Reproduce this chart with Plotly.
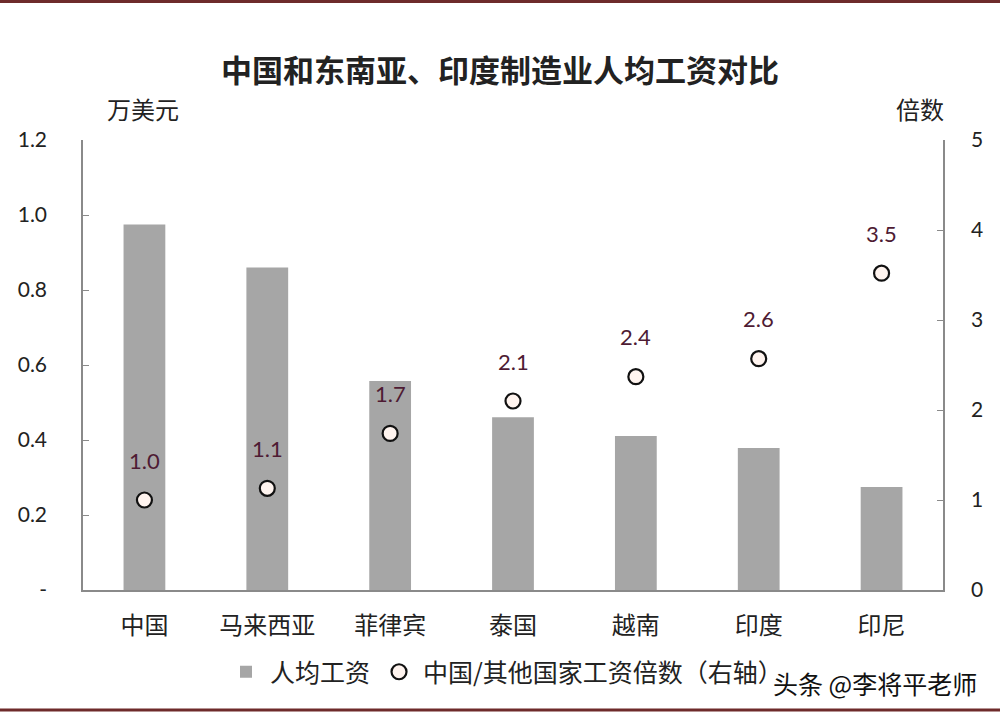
import plotly.graph_objects as go

categories = ["中国", "马来西亚", "菲律宾", "泰国", "越南", "印度", "印尼"]
wage = [0.975, 0.86, 0.557, 0.461, 0.411, 0.379, 0.275]
ratio = [1.0, 1.13, 1.74, 2.1, 2.37, 2.57, 3.52]
ratio_labels = ["1.0", "1.1", "1.7", "2.1", "2.4", "2.6", "3.5"]
left_ticks = [0, 0.2, 0.4, 0.6, 0.8, 1.0, 1.2]
left_ticktext = ["-", "0.2", "0.4", "0.6", "0.8", "1.0", "1.2"]
right_ticks = [0, 1, 2, 3, 4, 5]

CJK = "Noto Sans CJK SC"
NUM = "Lato"
dark = "#222222"
axis_col = "#8a8a8a"
label_col = "#4e1b33"

fig = go.Figure()
fig.add_trace(go.Bar(
    x=categories, y=wage, name="人均工资", width=0.34,
    marker=dict(color="#a6a6a6", line=dict(width=0)),
    yaxis="y",
))
fig.add_trace(go.Scatter(
    x=categories, y=ratio, name="中国/其他国家工资倍数（右轴）",
    mode="markers", yaxis="y2",
    marker=dict(symbol="circle", size=15, color="#fff4ef",
                line=dict(color="#111111", width=2.2)),
))

for c, r, t in zip(categories, ratio, ratio_labels):
    fig.add_annotation(x=c, y=r, xref="x", yref="y2", text=t, showarrow=False,
                       yshift=40, font=dict(family=NUM, size=22, color=label_col))

annots = [
    dict(text="中国和东南亚、印度制造业人均工资对比", x=(500 - 83) / 860, y=(590 - 68) / 450,
         font=dict(family=CJK, size=31, color=dark, weight=600)),
    dict(text="万美元", x=(143 - 83) / 860, y=(590 - 108) / 450,
         font=dict(family=CJK, size=24, color=dark)),
    dict(text="倍数", x=(920 - 83) / 860, y=(590 - 108) / 450,
         font=dict(family=CJK, size=24, color=dark)),
    dict(text="头条 @李将平老师", x=(875 - 83) / 860, y=(590 - 683) / 450,
         font=dict(family=CJK, size=25, color="#111111")),
]
for a in annots:
    fig.add_annotation(text=a["text"], x=a["x"], y=a["y"], xref="paper", yref="paper",
                       showarrow=False, xanchor="center", yanchor="middle", font=a["font"])

# border lines top and bottom
for py in (1.5, 710):
    fig.add_shape(type="line", xref="paper", yref="paper",
                  x0=-83 / 860, x1=917 / 860, y0=(590 - py) / 450, y1=(590 - py) / 450,
                  line=dict(color="#6e2b2b", width=3))

fig.update_layout(
    width=1000, height=714,
    margin=dict(l=83, r=57, t=140, b=124),
    paper_bgcolor="white", plot_bgcolor="white",
    showlegend=True,
    legend=dict(orientation="h", x=(505 - 83) / 860, xanchor="center",
                y=(590 - 672) / 450, yanchor="middle",
                font=dict(family=CJK, size=25, color=dark), itemwidth=38,
                bgcolor="rgba(0,0,0,0)"),
    xaxis=dict(range=[-0.5, 6.5], showline=True, linecolor=axis_col, linewidth=1.5,
               ticks="", showgrid=False, ticklabelstandoff=13,
               tickfont=dict(family=CJK, size=24, color=dark)),
    yaxis=dict(range=[0, 1.2], tickvals=left_ticks, ticktext=left_ticktext,
               showline=True, linecolor=axis_col, linewidth=1.5, ticks="inside",
               ticklen=6, tickcolor=axis_col, showgrid=False, zeroline=False,
               tickfont=dict(family=NUM, size=21, color=dark), ticklabelstandoff=30),
    yaxis2=dict(range=[0, 5], tickvals=right_ticks, overlaying="y", side="right",
                showline=True, linecolor=axis_col, linewidth=1.5, ticks="inside",
                ticklen=6, tickcolor=axis_col, showgrid=False, zeroline=False,
                tickfont=dict(family=NUM, size=21, color=dark), ticklabelstandoff=22),
)

fig.write_html("out.html")
